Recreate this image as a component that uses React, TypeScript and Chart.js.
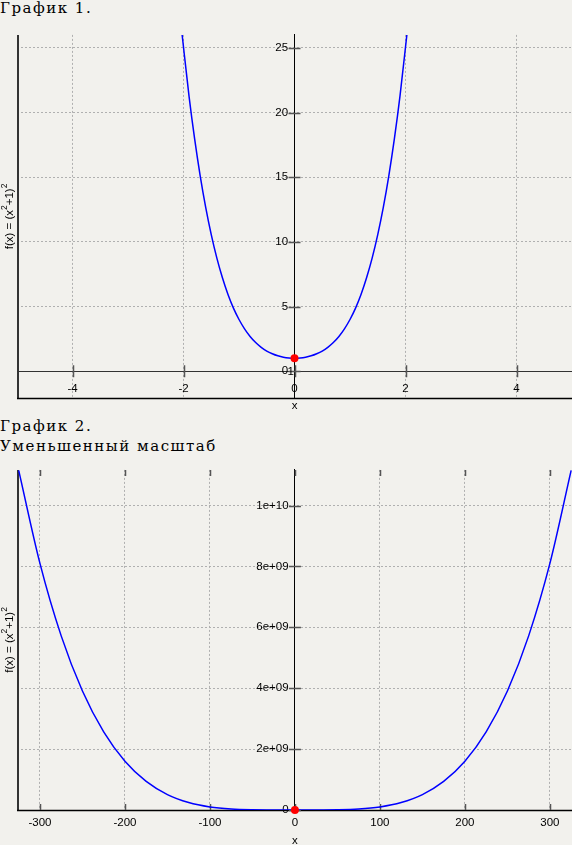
import React, { useEffect, useRef } from 'react';
import { Chart, registerables } from 'chart.js';

Chart.register(...registerables);

// ---------- texts ----------
const title1 = 'График 1.';
const title2a = 'График 2.';
const title2b = 'Уменьшенный масштаб';
const xAxisTitle = 'x';
const yTitleParts = ['f(x) = (x', '2', '+1)', '2'];
const extraZeroLabel = '1';

// ---------- chart 1 data ----------
const curve1X = [
  -2.025, -1.9, -1.8, -1.7, -1.6, -1.5, -1.4, -1.3, -1.2, -1.1, -1.0,
  -0.9, -0.8, -0.7, -0.6, -0.5, -0.4, -0.3, -0.2, -0.1, 0,
  0.1, 0.2, 0.3, 0.4, 0.5, 0.6, 0.7, 0.8, 0.9, 1.0,
  1.1, 1.2, 1.3, 1.4, 1.5, 1.6, 1.7, 1.8, 1.9, 2.025,
];
const curve1Y = [
  26.02, 21.25, 17.98, 15.13, 12.67, 10.56, 8.76, 7.24, 5.95, 4.88, 4.0,
  3.28, 2.69, 2.22, 1.85, 1.56, 1.35, 1.19, 1.08, 1.02, 1.0,
  1.02, 1.08, 1.19, 1.35, 1.56, 1.85, 2.22, 2.69, 3.28, 4.0,
  4.88, 5.95, 7.24, 8.76, 10.56, 12.67, 15.13, 17.98, 21.25, 26.02,
];
const markX = [0];
const markY = [1];
const xTicks1 = [-4, -2, 0, 2, 4];
const xTickLabels1 = ['-4', '-2', '0', '2', '4'];
const yTicks1 = [0, 5, 10, 15, 20, 25];
const yTickLabels1 = ['0', '5', '10', '15', '20', '25'];
const xRange1 = [-5, 5];
const yRange1 = [-2.07, 26];

// ---------- chart 2 data ----------
const curve2X = [
  -325, -300, -275, -250, -225, -200, -175, -150, -125, -100, -75, -50, -25, 0,
  25, 50, 75, 100, 125, 150, 175, 200, 225, 250, 275, 300, 325,
];
const curve2Y = [
  1.1157e10, 8.1e9, 5.719e9, 3.906e9, 2.563e9, 1.6e9, 9.38e8, 5.063e8, 2.442e8, 1.0e8, 3.165e7, 6.255e6, 3.919e5, 1,
  3.919e5, 6.255e6, 3.165e7, 1.0e8, 2.442e8, 5.063e8, 9.38e8, 1.6e9, 2.563e9, 3.906e9, 5.719e9, 8.1e9, 1.1157e10,
];
const xTicks2 = [-300, -200, -100, 0, 100, 200, 300];
const xTickLabels2 = ['-300', '-200', '-100', '0', '100', '200', '300'];
const yTicks2 = [0, 2e9, 4e9, 6e9, 8e9, 1e10];
const yTickLabels2 = ['0', '2e+09', '4e+09', '6e+09', '8e+09', '1e+10'];
const xRange2 = [-327, 326];
const yRange2 = [0, 1.117e10];

const BG = '#f2f1ed';
const TICK_FONT = { family: 'Liberation Sans', size: 11.5 };

type Cfg = {
  xs: number[]; ys: number[];
  xTicks: number[]; xLabels: string[];
  yTicks: number[]; yLabels: string[];
  xRange: number[]; yRange: number[];
  padding: { top: number; bottom: number; left: number; right: number };
  xPad: number;
  xTitleY: number;
  axisColor: string;
  topTicks: boolean;
  extraZero: boolean;
};

function makeChart(canvas: HTMLCanvasElement, c: Cfg) {
  const decor = {
    id: 'decor',
    beforeDatasetsDraw(chart: any) {
      const { ctx, chartArea: ca, scales } = chart;
      const sx = scales.x, sy = scales.y;
      const x0 = sx.getPixelForValue(0);
      const y0 = sy.getPixelForValue(0);
      ctx.save();
      // frame
      ctx.strokeStyle = '#333';
      ctx.lineWidth = 2;
      ctx.beginPath(); ctx.moveTo(ca.left + 1, ca.top); ctx.lineTo(ca.left + 1, ca.bottom); ctx.stroke();
      ctx.strokeStyle = '#000';
      ctx.lineWidth = 1.5;
      ctx.beginPath(); ctx.moveTo(ca.left, ca.bottom + 0.5); ctx.lineTo(ca.right, ca.bottom + 0.5); ctx.stroke();
      // tick marks
      ctx.strokeStyle = '#555';
      ctx.lineWidth = 1.5;
      ctx.beginPath();
      c.xTicks.forEach((v) => {
        const px = Math.round(sx.getPixelForValue(v)) + 0.5;
        ctx.moveTo(px, Math.max(y0 - 6, ca.top)); ctx.lineTo(px, Math.min(y0 + 6, ca.bottom));
        if (c.topTicks) { ctx.moveTo(px, ca.top); ctx.lineTo(px, ca.top + 6); }
      });
      c.yTicks.forEach((v) => {
        const py = Math.round(sy.getPixelForValue(v)) + 0.5;
        ctx.moveTo(x0 - 6, py); ctx.lineTo(x0 + 6, py);
      });
      ctx.stroke();
      // texts
      ctx.fillStyle = '#000';
      ctx.font = '11.5px "Liberation Sans"';
      ctx.textAlign = 'center';
      ctx.textBaseline = 'middle';
      ctx.fillText(xAxisTitle, x0, c.xTitleY);
      if (c.extraZero) {
        ctx.textAlign = 'left';
        ctx.fillText(extraZeroLabel, x0 - 7, y0 + 1);
      }
      // y title rotated with superscripts
      ctx.translate(10, (ca.top + ca.bottom) / 2);
      ctx.rotate(-Math.PI / 2);
      const big = '11.5px "Liberation Sans"';
      const small = '8.5px "Liberation Sans"';
      const widths = yTitleParts.map((t, i) => {
        ctx.font = i % 2 === 1 ? small : big;
        return ctx.measureText(t).width;
      });
      const total = widths.reduce((a, b) => a + b, 0);
      let cx = -total / 2;
      ctx.textAlign = 'left';
      yTitleParts.forEach((t, i) => {
        ctx.font = i % 2 === 1 ? small : big;
        ctx.fillText(t, cx, i % 2 === 1 ? -5 : 0);
        cx += widths[i];
      });
      ctx.restore();
    },
  };

  return new Chart(canvas, {
    type: 'scatter',
    data: {
      datasets: [
        {
          data: markX.map((x, i) => ({ x, y: markY[i] })),
          pointRadius: 4,
          pointBackgroundColor: '#ff0000',
          pointBorderColor: '#ff0000',
          pointBorderWidth: 0,
          showLine: false,
          clip: false,
        } as any,
        {
          data: c.xs.map((x, i) => ({ x, y: c.ys[i] })),
          showLine: true,
          borderColor: '#0000ff',
          borderWidth: 1.5,
          pointRadius: 0,
          cubicInterpolationMode: 'monotone',
          fill: false,
        } as any,
      ],
    },
    options: {
      animation: false,
      responsive: false,
      maintainAspectRatio: false,
      events: [],
      layout: { padding: c.padding, autoPadding: false },
      plugins: { legend: { display: false }, tooltip: { enabled: false } },
      scales: {
        x: {
          type: 'linear',
          min: c.xRange[0],
          max: c.xRange[1],
          position: { y: 0 } as any,
          afterBuildTicks: (s: any) => { s.ticks = c.xTicks.map((v) => ({ value: v })); },
          grid: { color: '#b0b0b0', lineWidth: 1, drawTicks: false },
          border: { display: true, color: c.axisColor, width: 1, dash: [2, 2] },
          ticks: {
            padding: c.xPad, color: '#000', font: TICK_FONT, maxRotation: 0, autoSkip: false,
            callback: (_v: any, i: number) => c.xLabels[i],
          },
        },
        y: {
          type: 'linear',
          min: c.yRange[0],
          max: c.yRange[1],
          position: { x: 0 } as any,
          afterBuildTicks: (s: any) => { s.ticks = c.yTicks.map((v) => ({ value: v })); },
          grid: { color: '#b0b0b0', lineWidth: 1, drawTicks: false },
          border: { display: true, color: '#000', width: 1, dash: [2, 2] },
          ticks: {
            padding: 8, color: '#000', font: TICK_FONT, autoSkip: false,
            callback: (_v: any, i: number) => c.yLabels[i] + '  ',
          },
        },
      },
    },
    plugins: [decor],
  } as any);
}

export default function App() {
  const ref1 = useRef<HTMLCanvasElement>(null);
  const ref2 = useRef<HTMLCanvasElement>(null);

  useEffect(() => {
    document.body.style.margin = '0';
    document.body.style.background = BG;
    const c1 = makeChart(ref1.current!, {
      xs: curve1X, ys: curve1Y,
      xTicks: xTicks1, xLabels: xTickLabels1,
      yTicks: yTicks1, yLabels: yTickLabels1,
      xRange: xRange1, yRange: yRange1,
      padding: { top: 11, bottom: 17, left: 17, right: 0 },
      xPad: 11, xTitleY: 386, axisColor: '#333', topTicks: false, extraZero: true,
    });
    const c2 = makeChart(ref2.current!, {
      xs: curve2X, ys: curve2Y,
      xTicks: xTicks2, xLabels: xTickLabels2,
      yTicks: yTicks2, yLabels: yTickLabels2,
      xRange: xRange2, yRange: yRange2,
      padding: { top: 11, bottom: 35, left: 17, right: 0 },
      xPad: 6, xTitleY: 386, axisColor: '#000', topTicks: true, extraZero: false,
    });
    return () => { c1.destroy(); c2.destroy(); };
  }, []);

  const titleStyle: React.CSSProperties = {
    position: 'absolute', left: 0, margin: 0,
    fontFamily: '"DejaVu Serif", serif', fontSize: 15, lineHeight: '20px',
    letterSpacing: '1.5px', color: '#000', whiteSpace: 'nowrap',
  };

  return (
    <div style={{ position: 'relative', width: 572, height: 845, background: BG, overflow: 'hidden' }}>
      <div style={{ ...titleStyle, top: -2 }}>{title1}</div>
      <canvas ref={ref1} width={572} height={395} style={{ position: 'absolute', left: 0, top: 20 }} />
      <div style={{ ...titleStyle, top: 416 }}>{title2a}<br />{title2b}</div>
      <canvas ref={ref2} width={572} height={390} style={{ position: 'absolute', left: 0, top: 455 }} />
    </div>
  );
}
